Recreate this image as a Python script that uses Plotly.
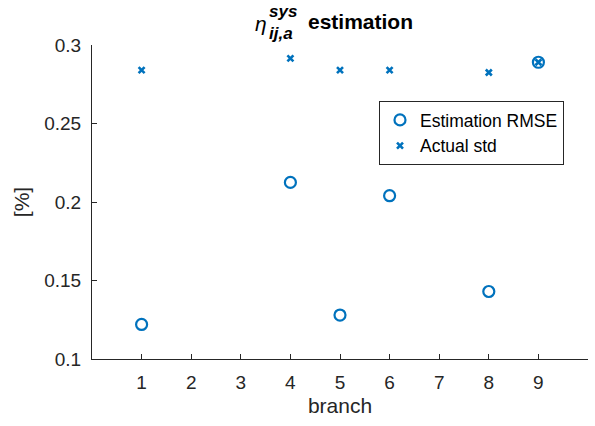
import plotly.graph_objects as go

branches_rmse = [1, 4, 5, 6, 8, 9]
rmse = [0.122, 0.2125, 0.128, 0.204, 0.143, 0.289]
branches_std = [1, 4, 5, 6, 8, 9]
actual_std = [0.284, 0.2915, 0.284, 0.284, 0.2825, 0.289]
xticks = [1, 2, 3, 4, 5, 6, 7, 8, 9]
yticks = [0.1, 0.15, 0.2, 0.25, 0.3]
yticktext = ["0.1", "0.15", "0.2", "0.25", "0.3"]

blue = "#0072BD"
axc = "#262626"
font = "Liberation Sans"

L, R, T, B = 92, 588, 45, 359
W, H = 595, 426

fig = go.Figure()
fig.add_trace(go.Scatter(x=branches_rmse, y=rmse, mode="markers", name="Estimation RMSE",
                         marker=dict(symbol="circle-open", size=11, color=blue, line=dict(width=2.2, color=blue))))
fig.add_trace(go.Scatter(x=branches_std, y=actual_std, mode="markers", name="Actual std",
                         marker=dict(symbol="x-thin", size=6, color=blue, line=dict(width=2.6, color=blue))))

fig.update_layout(
    width=W, height=H,
    margin=dict(l=L, r=W - R, t=T, b=H - B),
    plot_bgcolor="white", paper_bgcolor="white",
    font=dict(family=font, size=19, color=axc),
    showlegend=True,
    legend=dict(x=(379 - L) / (R - L), y=(B - 101) / (B - T), xanchor="left", yanchor="top",
                bordercolor=axc, borderwidth=1, bgcolor="white",
                font=dict(size=17.5, color="black", family=font), tracegroupgap=0,
                entrywidth=175, entrywidthmode="pixels"),
    xaxis=dict(range=[0, 10], tickvals=xticks, ticks="inside", ticklen=5, tickcolor=axc,
               showline=True, linecolor=axc, linewidth=1, showgrid=False, zeroline=False,
               ticklabelstandoff=6,
               title=dict(text="branch", font=dict(size=21, color=axc, family=font), standoff=6),
               tickfont=dict(size=19, color=axc, family=font)),
    yaxis=dict(range=[0.1, 0.3], tickvals=yticks, ticktext=yticktext,
               ticks="inside", ticklen=5, tickcolor=axc,
               showline=True, linecolor=axc, linewidth=1, showgrid=False, zeroline=False,
               ticklabelstandoff=6,
               title=dict(text="[%]", font=dict(size=21, color=axc, family=font), standoff=8),
               tickfont=dict(size=19, color=axc, family=font)),
)

# Title pieces (pixel positions converted to plot-area paper coords)
ann = [
    dict(x=254, y=23, text="<i>η</i>", size=21),
    dict(x=268, y=12, text="<b><i>sys</i></b>", size=17),
    dict(x=268, y=33, text="<b><i>ij,a</i></b>", size=17),
    dict(x=307, y=21, text="<b>estimation</b>", size=21),
]
for a in ann:
    fig.add_annotation(xref="paper", yref="paper",
                       x=(a["x"] - L) / (R - L), y=(B - a["y"]) / (B - T),
                       text=a["text"], showarrow=False,
                       font=dict(size=a["size"], color="black", family=font),
                       xanchor="left", yanchor="middle", borderpad=0)

fig.write_html("out.html")
